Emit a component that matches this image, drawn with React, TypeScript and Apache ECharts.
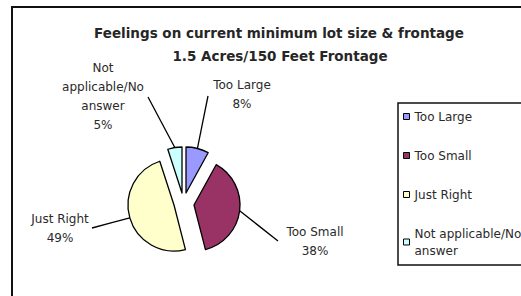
import React, { useEffect, useRef } from "react";
import * as echarts from "echarts";

const titleLine1 = "Feelings on current minimum lot size & frontage";
const titleLine2 = "1.5 Acres/150 Feet Frontage";
const categories = ["Too Large", "Too Small", "Just Right", "Not applicable/No answer"];
const legendNames = ["Too Large", "Too Small", "Just Right", "Not applicable/No\nanswer"];
const labelTexts = ["Too Large\n8%", "Too Small\n38%", "Just Right\n49%", "Not\napplicable/No\nanswer\n5%"];
const values = [8, 38, 49, 5];
const colors = ["#9999FF", "#993366", "#FFFFCC", "#CCFFFF"];

// layout: exploded slice centres, label anchors, leader-line ends
const sliceCenters = [
  [186, 193],
  [194, 205],
  [174, 205],
  [182, 193],
];
const labelPos = [
  [242, 94],
  [315, 241],
  [60, 228],
  [103, 96],
];
const leaderEnds = [
  [208, 96],
  [278, 241],
  [92, 228],
  [148, 97],
];
const RADIUS = 46;

export default function App() {
  const ref = useRef<HTMLDivElement>(null);
  useEffect(() => {
    if (!ref.current) return;
    const chart = echarts.init(ref.current, null, { renderer: "svg" });
    const font = "DejaVu Sans";
    const total = values.reduce((a, b) => a + b, 0);
    // mid angle of each slice (clockwise from 12 o'clock), from the data
    const midAngles: number[] = [];
    let acc = 0;
    values.forEach((v) => {
      midAngles.push(((acc + v / 2) / total) * Math.PI * 2);
      acc += v;
    });
    const series = categories.map((_, k) => ({
      type: "pie",
      center: sliceCenters[k],
      radius: [0, RADIUS],
      startAngle: 90,
      clockwise: true,
      silent: true,
      emphasis: { disabled: true },
      avoidLabelOverlap: false,
      label: {
        show: false,
        position: "outside",
        formatter: (p: any) => labelTexts[p.dataIndex],
        fontFamily: font,
        fontSize: 12,
        color: "#2a2a2a",
        lineHeight: 19,
        align: "center",
      },
      labelLine: { show: false, lineStyle: { color: "#000", width: 1.3 } },
      labelLayout: (p: any) => {
        if (p.dataIndex !== k) return {};
        const a = midAngles[k];
        const sx = sliceCenters[k][0] + RADIUS * Math.sin(a);
        const sy = sliceCenters[k][1] - RADIUS * Math.cos(a);
        const e = leaderEnds[k];
        return {
          x: labelPos[k][0],
          y: labelPos[k][1],
          align: "center",
          verticalAlign: "middle",
          labelLinePoints: [
            [sx, sy],
            [(sx + e[0]) / 2, (sy + e[1]) / 2],
            [e[0], e[1]],
          ],
        };
      },
      data: categories.map((c, i) => ({
        name: c,
        value: values[i],
        itemStyle:
          i === k
            ? { color: colors[i], borderColor: "#000", borderWidth: 1.3 }
            : { color: "rgba(0,0,0,0)", borderWidth: 0 },
        label: { show: i === k },
        labelLine: { show: i === k, length: 15, length2: 10 },
      })),
    }));
    chart.setOption({
      animation: false,
      backgroundColor: "#ffffff",
      textStyle: { fontFamily: font },
      title: [
        {
          text: titleLine1,
          left: 274,
          top: 21,
          textAlign: "center",
          textStyle: { fontFamily: font, fontSize: 13.5, fontWeight: "bold", color: "#262626" },
        },
        {
          text: titleLine2,
          left: 275,
          top: 44,
          textAlign: "center",
          textStyle: { fontFamily: font, fontSize: 13.5, fontWeight: "bold", color: "#262626" },
        },
      ],
      graphic: [
        {
          type: "rect",
          shape: { x: 12, y: 7, width: 530, height: 310 },
          style: { fill: "none", stroke: "#111", lineWidth: 2 },
          z: 0,
        },
        {
          type: "rect",
          shape: { x: 398, y: 103, width: 140, height: 162 },
          style: { fill: "none", stroke: "#111", lineWidth: 1.5 },
          z: 0,
        },
      ],
      legend: {
        orient: "vertical",
        left: 403,
        top: 108,
        padding: 0,
        itemGap: 22,
        itemWidth: 6,
        itemHeight: 6,
        icon: "rect",
        data: categories.map((c, i) => ({
          name: c,
          itemStyle: { color: colors[i], borderColor: "#000", borderWidth: 1 },
        })),
        formatter: (name: string) => legendNames[categories.indexOf(name)],
        textStyle: { fontFamily: font, fontSize: 12, color: "#2a2a2a", lineHeight: 17 },
        selectedMode: false,
      },
      series,
    });
    return () => chart.dispose();
  }, []);
  return <div ref={ref} style={{ width: 521, height: 296, position: "absolute", left: 0, top: 0 }} />;
}
